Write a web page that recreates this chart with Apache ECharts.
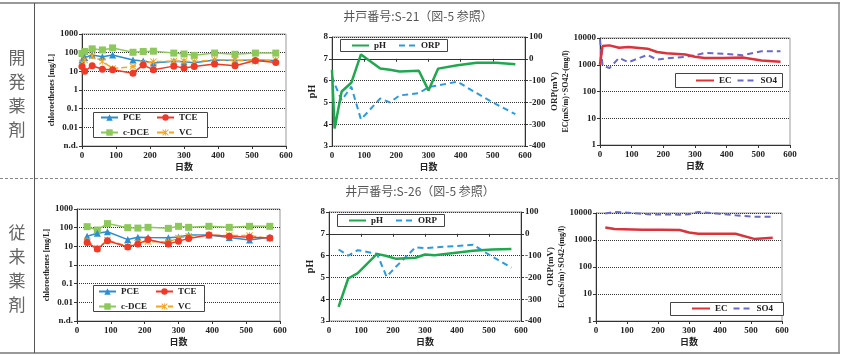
<!DOCTYPE html>
<html>
<head>
<meta charset="utf-8">
<script src="https://cdn.jsdelivr.net/npm/echarts@6/dist/echarts.min.js"></script>
<style>
  html, body { margin: 0; padding: 0; background: #fff; }
  #main { width: 843px; height: 355px; }
</style>
</head>
<body>
<div id="main"></div>
<script>
var myChart = echarts.init(document.getElementById('main'));

// 井戸番号 S-21（開発薬剤）
var days21 = [0, 8, 30, 60, 90, 150, 180, 210, 270, 300, 330, 390, 450, 510, 570];
var pce21  = [40, 55, 75, 60, 75, 40, 36, 28, 35, 33, 29, 40, 38, 40, 38];
var tce21  = [18, 10, 20, 13, 12, 8, 22, 12, 19, 15, 18, 25, 20, 38, 30];
var cdce21 = [90, 115, 160, 140, 180, 105, 115, 120, 95, 85, 72, 95, 82, 95, 95];
var vc21   = [29, 40, 66, 35, 14, 18, 26, 33, 35, 35, 33, 42, 40, 35, 40];
var ph21   = [6.5, 3.8, 5.5, 5.9, 7.2, 6.55, 6.5, 6.42, 6.45, 5.55, 6.55, 6.7, 6.82, 6.82, 6.75];
var orp21  = [-80, -115, -190, -128, -278, -182, -200, -168, -158, -130, -122, -105, -158, -208, -254];
var ec21   = [1000, 5000, 5300, 4300, 4600, 4000, 3000, 2700, 2400, 2000, 1800, 1800, 1850, 1450, 1300];
var so421  = [9000, 950, 750, 1800, 1250, 2350, 1550, 1750, 1950, 2250, 2750, 2600, 2250, 3200, 3200];

// 井戸番号 S-26（従来薬剤）
var days26 = [30, 60, 90, 150, 180, 210, 270, 300, 330, 390, 450, 510, 570];
var pce26  = [35, 50, 60, 23, 31, 30, 29, 32, 40, 40, 30, 22, 31];
var tce26  = [16, 7.2, 20, 9.2, 13.5, 23, 13.5, 19, 26, 40, 35, 31, 28];
var cdce26 = [113, 75, 165, 100, 95, 104, 92, 118, 104, 118, 104, 118, 118];
var vc26   = [20, 8, 22, 10, 15, 18, 17, 28, 35, 40, 38, 38, 26];
var ph26   = [3.65, 4.95, 5.2, 6.08, 5.98, 5.85, 5.9, 6.05, 6.02, 6.12, 6.22, 6.28, 6.3];
var orp26  = [-72, -100, -75, -92, -197, -150, -62, -66, -62, -57, -50, -105, -155];
var ec26   = [2900, 2550, 2500, 2400, 2400, 2400, 2350, 1900, 1700, 1700, 1700, 1100, 1200];
var so426  = [9500, 11000, 10500, 9300, 8800, 8800, 8700, 9000, 11000, 9500, 8200, 7300, 7300];

var serif = "'Liberation Serif', 'Times New Roman', 'Noto Sans CJK JP', serif";
var jp = "'Noto Sans CJK JP', sans-serif";
var starPath = 'path://M1,0 L5,4 L9,0 L10,1 L6,5 L10,9 L9,10 L5,6 L1,10 L0,9 L4,5 L0,1 Z M4.4,0 L5.6,0 L5.6,10 L4.4,10 Z';

function pairs(xs, ys) {
    return xs.map(function (d, i) { return [d, ys[i]]; });
}

var labelStyle = { fontFamily: serif, fontWeight: 'bold', fontSize: 9, color: '#222' };
var dotted = { type: 'dotted', color: '#333', width: 1 };

function dayAxis(gi) {
    return {
        type: 'value', gridIndex: gi, min: 0, max: 600, interval: 100,
        name: '日数', nameLocation: 'middle', nameGap: 16,
        nameTextStyle: { fontFamily: jp, fontWeight: 'bold', fontSize: 9, color: '#222' },
        axisLine: { lineStyle: { color: '#333' } },
        axisTick: { length: 3, lineStyle: { color: '#333' } },
        axisLabel: Object.assign({ margin: 5 }, labelStyle),
        splitLine: { show: false }
    };
}

function logAxis(gi, min, max, name, gap, nd) {
    return {
        type: 'log', logBase: 10, gridIndex: gi, min: min, max: max,
        name: name, nameLocation: 'middle', nameGap: gap,
        nameTextStyle: { fontFamily: serif, fontWeight: 'bold', fontSize: 8, color: '#222' },
        axisLine: { show: true, lineStyle: { color: '#333' } },
        axisTick: { show: true, length: 3, lineStyle: { color: '#333' } },
        axisLabel: Object.assign({
            margin: 4,
            formatter: function (v) {
                if (nd && v < 0.0015) return 'n.d.';
                return String(+v.toPrecision(3));
            }
        }, labelStyle),
        splitLine: { show: true, lineStyle: dotted }
    };
}

function linAxis(gi, min, max, step, name, gap, pos, grid) {
    return {
        type: 'value', gridIndex: gi, min: min, max: max, interval: step, position: pos,
        name: name, nameLocation: 'middle', nameGap: gap,
        nameTextStyle: { fontFamily: serif, fontWeight: 'bold', fontSize: pos === 'left' ? 10 : 9, color: '#222' },
        axisLine: { show: true, lineStyle: { color: '#333' } },
        axisTick: { show: true, length: 3, lineStyle: { color: '#333' } },
        axisLabel: Object.assign({ margin: 4 }, labelStyle),
        splitLine: { show: grid, lineStyle: dotted }
    };
}

function chloroSeries(xi, yi, days, pce, tce, cdce, vc) {
    return [
        { name: 'c-DCE', type: 'line', xAxisIndex: xi, yAxisIndex: yi, data: pairs(days, cdce),
          symbol: 'rect', symbolSize: 7, color: '#8cc85a', lineStyle: { width: 1.5 } },
        { name: 'PCE', type: 'line', xAxisIndex: xi, yAxisIndex: yi, data: pairs(days, pce),
          symbol: 'triangle', symbolSize: 7, color: '#2a8fd0', lineStyle: { width: 1.5 } },
        { name: 'VC', type: 'line', xAxisIndex: xi, yAxisIndex: yi, data: pairs(days, vc),
          symbol: starPath, symbolSize: 7, color: '#f5a623', lineStyle: { width: 1.5, type: 'dashed' } },
        { name: 'TCE', type: 'line', xAxisIndex: xi, yAxisIndex: yi, data: pairs(days, tce),
          symbol: 'circle', symbolSize: 7, color: '#ee3a26', lineStyle: { width: 1.5 } }
    ];
}

function phSeries(xi, yl, yr, days, ph, orp) {
    return [
        { name: 'ORP', type: 'line', xAxisIndex: xi, yAxisIndex: yr, data: pairs(days, orp),
          symbol: 'none', color: '#2b9be0', lineStyle: { width: 2, type: [6, 4] } },
        { name: 'pH', type: 'line', xAxisIndex: xi, yAxisIndex: yl, data: pairs(days, ph),
          symbol: 'none', color: '#1fa84e', lineStyle: { width: 2.5 } }
    ];
}

function ecSeries(xi, yi, days, ec, so4) {
    return [
        { name: 'SO4', type: 'line', xAxisIndex: xi, yAxisIndex: yi, data: pairs(days, so4), clip: false,
          symbol: 'none', color: '#6a6ac8', lineStyle: { width: 2, type: [6, 4] } },
        { name: 'EC', type: 'line', xAxisIndex: xi, yAxisIndex: yi, data: pairs(days, ec), clip: false,
          symbol: 'none', color: '#d8343a', lineStyle: { width: 2.5 } }
    ];
}

var legendText = { fontFamily: serif, fontWeight: 'bold', fontSize: 9, color: '#222' };
function legend(names, left, top, orient, w, gap, lineOnly) {
    var l = {
        data: names, left: left, top: top, orient: orient, padding: 0,
        itemWidth: w, itemHeight: 8, itemGap: gap,
        textStyle: legendText, selectedMode: false
    };
    if (lineOnly) l.itemStyle = { opacity: 0 };
    return l;
}

function box(x, y, w, h) {
    return { type: 'rect', z: 3, shape: { x: x, y: y, width: w, height: h },
             style: { fill: '#fff', stroke: '#444', lineWidth: 1 } };
}

var gridLine = { show: true, borderColor: '#999', borderWidth: 1 };

var option = {
    animation: false,
    grid: [
        Object.assign({ left: 82, top: 34, width: 204, height: 112 }, gridLine),
        Object.assign({ left: 332, top: 37, width: 193, height: 109 }, gridLine),
        Object.assign({ left: 600, top: 38, width: 190, height: 107 }, gridLine),
        Object.assign({ left: 77, top: 209, width: 203, height: 112 }, gridLine),
        Object.assign({ left: 329, top: 212, width: 192, height: 109 }, gridLine),
        Object.assign({ left: 596, top: 213, width: 186, height: 108 }, gridLine)
    ],
    xAxis: [dayAxis(0), dayAxis(1), dayAxis(2), dayAxis(3), dayAxis(4), dayAxis(5)],
    yAxis: [
        logAxis(0, 0.001, 1000, 'chloroethenes [mg/L]', 25, true),
        linAxis(1, 3, 8, 1, 'pH', 15, 'left', true),
        linAxis(1, -400, 100, 100, 'ORP(mV)', 25, 'right', false),
        logAxis(2, 1, 10000, 'EC(mS/m)･SO42-(mg/l)', 27, false),
        logAxis(3, 0.001, 1000, 'chloroethenes [mg/L]', 21, true),
        linAxis(4, 3, 8, 1, 'pH', 14, 'left', true),
        linAxis(4, -400, 100, 100, 'ORP(mV)', 25, 'right', false),
        logAxis(5, 1, 10000, 'EC(mS/m)･SO42-(mg/l)', 26, false)
    ],
    legend: [
        legend(['PCE', 'c-DCE'], 100, 113, 'vertical', 17, 6),
        legend(['TCE', 'VC'], 156, 113, 'vertical', 17, 6),
        legend(['pH', 'ORP'], 351, 41, 'horizontal', 17, 12, true),
        legend(['EC', 'SO4'], 695, 76, 'horizontal', 18, 5, true),
        legend(['PCE', 'c-DCE'], 98, 287, 'vertical', 17, 6),
        legend(['TCE', 'VC'], 155, 287, 'vertical', 17, 6),
        legend(['pH', 'ORP'], 348, 216, 'horizontal', 17, 12, true),
        legend(['EC', 'SO4'], 691, 304, 'horizontal', 18, 5, true)
    ],
    series: [].concat(
        chloroSeries(0, 0, days21, pce21, tce21, cdce21, vc21),
        phSeries(1, 1, 2, days21, ph21, orp21),
        ecSeries(2, 3, days21, ec21, so421),
        chloroSeries(3, 4, days26, pce26, tce26, cdce26, vc26),
        phSeries(4, 5, 6, days26, ph26, orp26),
        ecSeries(5, 7, days26, ec26, so426)
    ),
    graphic: [
        // 表の罫線
        { type: 'line', shape: { x1: 0, y1: 3, x2: 840, y2: 3 }, style: { stroke: '#999', lineWidth: 2 } },
        { type: 'line', shape: { x1: 0, y1: 353, x2: 840, y2: 353 }, style: { stroke: '#999', lineWidth: 2 } },
        { type: 'line', shape: { x1: 839, y1: 3, x2: 839, y2: 353 }, style: { stroke: '#888', lineWidth: 1.5 } },
        { type: 'line', shape: { x1: 34.5, y1: 3, x2: 34.5, y2: 353 }, style: { stroke: '#555', lineWidth: 1 } },
        { type: 'line', shape: { x1: 0, y1: 178.5, x2: 839, y2: 178.5 }, style: { stroke: '#888', lineWidth: 1, lineDash: [3, 2] } },
        // 行ラベル
        { type: 'text', x: 17, y: 94, style: { text: '開\n発\n薬\n剤', font: '17px ' + jp, lineHeight: 24, fill: '#666', align: 'center', verticalAlign: 'middle' } },
        { type: 'text', x: 17, y: 269, style: { text: '従\n来\n薬\n剤', font: '17px ' + jp, lineHeight: 24, fill: '#666', align: 'center', verticalAlign: 'middle' } },
        // 見出し
        { type: 'text', x: 418, y: 16, style: { text: '井戸番号:S-21（図-5 参照）', font: '12px ' + jp, fill: '#555', align: 'center', verticalAlign: 'middle' } },
        { type: 'text', x: 420, y: 191, style: { text: '井戸番号:S-26（図-5 参照）', font: '12px ' + jp, fill: '#555', align: 'center', verticalAlign: 'middle' } },
        // 凡例の枠
        box(93.5, 112.5, 114, 25),
        box(340.5, 39.5, 107, 12),
        box(675.5, 73.5, 107, 14),
        box(93.5, 285.5, 111, 26),
        box(337.5, 214.5, 107, 12),
        box(670.5, 302.5, 113, 13)
    ]
};

myChart.setOption(option);
</script>
</body>
</html>
